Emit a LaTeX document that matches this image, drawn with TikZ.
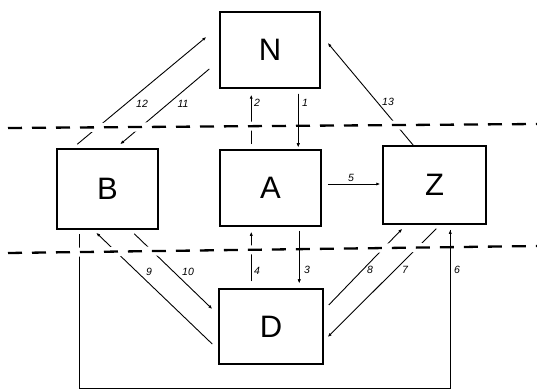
\documentclass[tikz,border=0pt]{standalone}
\usepackage{fontspec}
\setmainfont{Liberation Sans}
\usetikzlibrary{arrows.meta,calc}
\begin{document}
\begin{tikzpicture}[x=1pt,y=-1pt,
  box/.style={draw,line width=1.5pt,minimum width=#1,inner sep=0pt,font=\fontsize{31}{31}\selectfont},
  conn/.style={line width=0.9pt,-{Latex[length=4pt,width=3.2pt]}},
  plain/.style={line width=0.9pt},
  lbl/.style={font=\fontsize{10.5}{10.5}\selectfont\itshape,inner sep=0pt},
  sep/.style={line width=2.3pt,dash pattern=on 14pt off 10pt},
  band/.style={white,line width=9pt}]
\useasboundingbox (0,0) rectangle (537,390);
% boxes
\node[box=100pt,minimum height=76pt] (N) at (270,50) {N};
\node[box=101pt,minimum height=80pt] (B) at (107.5,189) {B};
\node[box=101pt,minimum height=76pt] (A) at (270.5,188) {A};
\node[box=103pt,minimum height=78pt] (Z) at (434.5,185) {Z};
\node[box=104pt,minimum height=75pt] (D) at (271,326.5) {D};
% connectors
\draw[conn] ($(N.south west)+(79,5)$) -- ($(A.north west)+(79,-2)$);
\draw[conn] ($(A.north west)+(32,-5)$) -- ($(N.south west)+(32,6)$);
\draw[conn] ($(A.south west)+(80,4)$) -- ($(D.north west)+(81,-5)$);
\draw[conn] ($(D.north west)+(33,-7)$) -- ($(A.south west)+(32,5)$);
\draw[conn] ($(A.east)+(6,-4)$) -- ($(Z.west)+(-2,-1)$);
\coordinate (b6) at ($(B.south west)+(23,4)$);
\coordinate (z6) at ($(Z.south west)+(68,5)$);
\coordinate (bot) at (0,388);
\draw[conn] (b6) -- (b6 |- bot) -- (z6 |- bot) -- (z6);
\draw[conn] ($(Z.south west)+(54,4)$) -- ($(D.east)+(4,10.5)$);
\draw[conn] ($(D.east)+(5,-21.5)$) -- ($(Z.south west)+(20,4)$);
\draw[conn] ($(D.west)+(-6,17.5)$) -- ($(B.south west)+(40,3)$);
\draw[conn] ($(B.south west)+(78,4)$) -- ($(D.west)+(-6,-17.5)$);
\draw[conn] ($(N.west)+(-10,19)$) -- ($(B.north west)+(64,-4)$);
\draw[conn] ($(B.north west)+(21,-4)$) -- ($(N.west)+(-13,-13)$);
\draw[conn] ($(Z.north west)+(31,0)$) -- ($(N.east)+(7,-7)$);
% separators
\coordinate (s1a) at (8,128);
\coordinate (s1b) at (537,124);
\coordinate (s2a) at (8,253);
\coordinate (s2b) at (537,246);
\draw[band] (s1a) -- (s1b);
\draw[band] (s2a) -- (s2b);
\draw[conn] ($(N.south west)+(79,5)$) -- ($(A.north west)+(79,-2)$);
\draw[conn] ($(A.south west)+(80,4)$) -- ($(D.north west)+(81,-5)$);
\draw[plain] (z6) -- (z6 |- bot);
\draw[sep] (s1a) -- (s1b);
\draw[sep] (s2a) -- (s2b);
% labels
\node[lbl] (l1) at (305,103) {1};
\node[lbl] (l2) at (257,103) {2};
\node[lbl] (l11) at (183,104) {11};
\node[lbl] (l12) at (142,104) {12};
\node[lbl] (l13) at (388,102) {13};
\node[lbl] (l5) at (351,178) {5};
\node[lbl] (l3) at (307,270) {3};
\node[lbl] (l4) at (257,271) {4};
\node[lbl] (l9) at (149,272) {9};
\node[lbl] (l10) at (188,272) {10};
\node[lbl] (l8) at (370,270) {8};
\node[lbl] (l7) at (405,270) {7};
\node[lbl] (l6) at (457,270) {6};
\end{tikzpicture}
\end{document}
